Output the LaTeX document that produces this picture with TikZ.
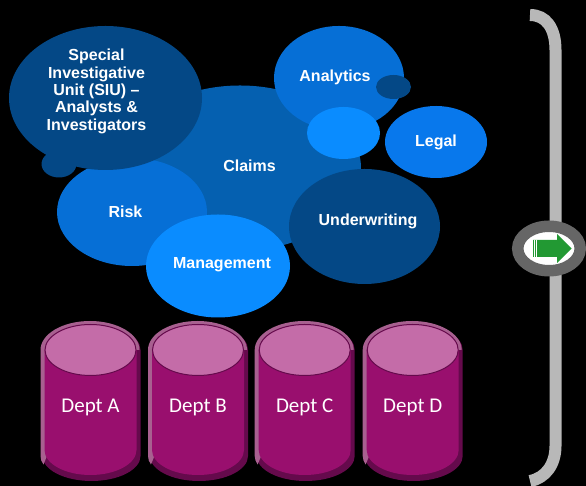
\documentclass[tikz,border=0pt]{standalone}
\usepackage{fontspec}
\setmainfont{Liberation Sans}
\newfontfamily\deptfont{Carlito}
\usetikzlibrary{shapes.geometric}
\definecolor{darkblue}{HTML}{044886}
\definecolor{midblue}{HTML}{0560B0}
\definecolor{brightblue}{HTML}{066FD6}
\definecolor{legalblue}{HTML}{0878EC}
\definecolor{lightblue}{HTML}{0A8CFF}
\definecolor{plum}{HTML}{990F6E}
\definecolor{plumtop}{HTML}{C46CA8}
\definecolor{plumlight}{HTML}{A86090}
\definecolor{plumdark}{HTML}{650A4C}
\definecolor{arrowgreen}{HTML}{229933}
\begin{document}
\begin{tikzpicture}[x=1pt, y=1pt,
    bubble/.style={ellipse, inner sep=0pt, text=white, align=center, font=\bfseries\fontsize{16}{17.3}\selectfont},
    depttop/.style={ellipse, minimum width=91pt, minimum height=51pt, inner sep=0pt, draw=plumdark, line width=1pt, fill=plumtop},
    deptlabel/.style={text=white, font=\deptfont\fontsize{21}{23}\selectfont}]
    \fill[black] (0,0) rectangle (586,486);
    \useasboundingbox (0,0) rectangle (586,486);
    % blue bubbles, back to front
    \node[bubble, fill=midblue, minimum width=242pt, minimum height=165pt] (claims) at (240,318) {};
    \node[bubble, fill=brightblue, minimum width=130pt, minimum height=104pt] (analytics) at (339,408) {};
    \node[bubble, fill=lightblue, minimum width=73pt, minimum height=52pt] (analyticsdot) at (343.5,353) {};
    \node[bubble, fill=darkblue, minimum width=35pt, minimum height=24pt] (analyticsknob) at (393.5,399) {};
    \node[bubble, fill=legalblue, minimum width=102pt, minimum height=72pt] (legal) at (436,344) {};
    \node[bubble, fill=brightblue, minimum width=150pt, minimum height=108pt] (risk) at (132,274) {};
    \node[bubble, fill=darkblue, minimum width=35pt, minimum height=27pt] (siuknob) at (59,322) {};
    \node[bubble, fill=darkblue, minimum width=193pt, minimum height=144pt] (siu) at (105.5,388) {};
    \node[bubble, fill=lightblue, minimum width=144pt, minimum height=103pt] (management) at (218,220) {};
    \node[bubble, fill=darkblue, minimum width=151pt, minimum height=115pt] (underwriting) at (364.5,259.5) {};
    % bubble labels
    \node[bubble] (claimstext) at (249.5,320.5) {Claims};
    \node[bubble] (analyticstext) at (335,409) {Analytics};
    \node[bubble] (legaltext) at (436,344) {Legal};
    \node[bubble] (risktext) at (125.5,274.5) {Risk};
    \node[bubble] (managementtext) at (222,221) {Management};
    \node[bubble] (underwritingtext) at (368,265) {Underwriting};
    \node[bubble] (siutext) at (96.5,394.5) {Special\\Investigative\\Unit (SIU) --\\Analysts \&\\Investigators};
    % departments
    \foreach \cx/\nm/\lbl in {90.5/depta/Dept A, 198/deptb/Dept B, 304.7/deptc/Dept C, 412.7/deptd/Dept D} {
        \fill[plumdark] (\cx+50,136) arc[start angle=0, end angle=180, x radius=49, y radius=26] -- (\cx-48,30) arc[start angle=-180, end angle=0, x radius=49, y radius=25] -- cycle;
        \fill[plumlight] (\cx+49,136) arc[start angle=0, end angle=180, x radius=49.5, y radius=29] -- (\cx-50,30) arc[start angle=180, end angle=200, x radius=49, y radius=25] -- (\cx,136) -- cycle;
        \fill[plum] (\cx-46,136) -- (\cx-46,36) arc[start angle=-180, end angle=0, x radius=46, y radius=25] -- (\cx+46,136) -- cycle;
        \node[depttop] (\nm) at (\cx,136) {};
        \node[deptlabel] (\nm text) at (\cx,79) {\lbl};
    }
    % bracket
    \coordinate (brackettop) at (530,471);
    \coordinate (bracketbottom) at (530,5);
    \draw[line width=12pt, color=black!28] (brackettop) .. controls (546,471) and (555.5,458) .. (555.5,436) -- (555.5,40) .. controls (555.5,22) and (546,8) .. (bracketbottom);
    \node[ellipse, minimum width=62.5pt, minimum height=44.5pt, inner sep=0pt, draw=black!60, line width=11.5pt, fill=white] (ring) at (549,237.5) {};
    \fill[arrowgreen] (533,246) -- (557,246) -- (557,252) -- (571.5,237.5) -- (557,223) -- (557,229) -- (533,229) -- cycle;
    \foreach \sx in {534.3,536.7} {
        \draw[white, line width=0.7pt] (\sx,229) -- (\sx,246);
    }
\end{tikzpicture}
\end{document}
